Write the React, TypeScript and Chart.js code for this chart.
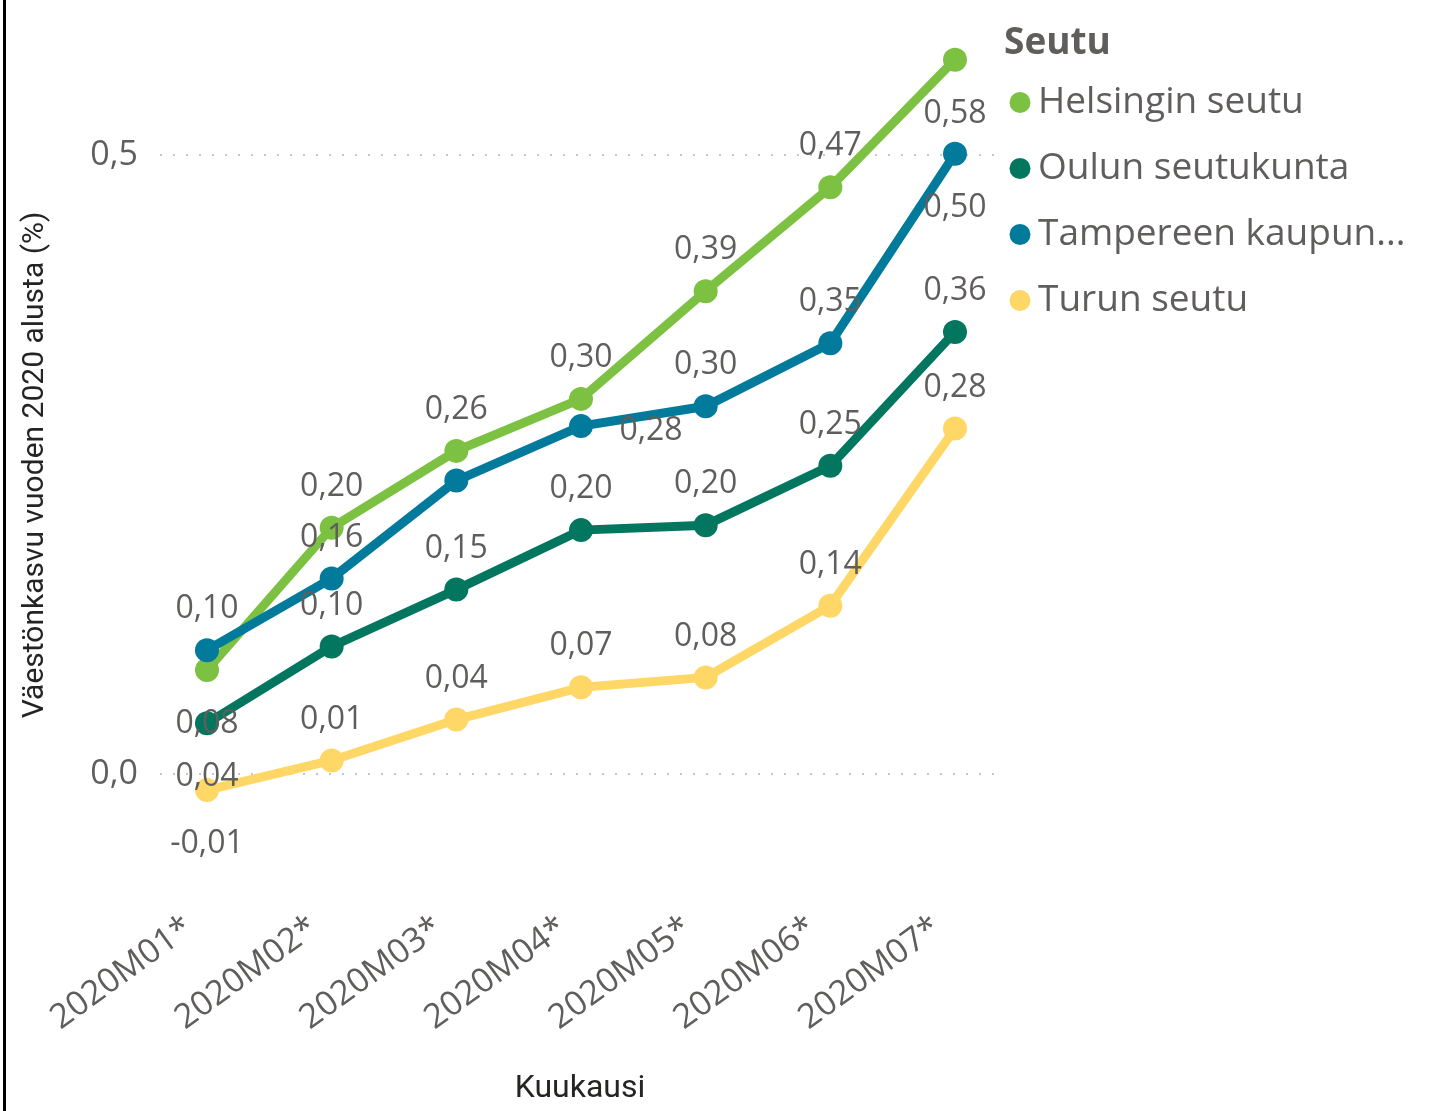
import React, { useEffect, useRef } from 'react';
import { Chart, registerables } from 'chart.js';

Chart.register(...registerables);

const categories = ['2020M01*', '2020M02*', '2020M03*', '2020M04*', '2020M05*', '2020M06*', '2020M07*'];
const seriesNames = ['Helsingin seutu', 'Oulun seutukunta', 'Tampereen kaupunkiseutu', 'Turun seutu'];
const helsinki = [0.084, 0.199, 0.261, 0.303, 0.39, 0.474, 0.577];
const oulu = [0.041, 0.103, 0.149, 0.197, 0.201, 0.249, 0.357];
const tampere = [0.1, 0.158, 0.237, 0.281, 0.297, 0.348, 0.501];
const turku = [-0.013, 0.011, 0.044, 0.07, 0.078, 0.136, 0.279];
const yTickValues = [0, 0.5];
const seriesValues = [helsinki, oulu, tampere, turku];
const legendTitle = 'Seutu';

const colors = ['#7DC142', '#02765F', '#027A9C', '#FED766'];
// where each data label sits relative to its point (null = hidden)
const labelPlacement: (string | null)[][] = [
  ['below', 'above', 'above', 'above', 'above', 'above', 'below'],
  ['below', 'above', 'above', 'above', 'above', 'above', 'above'],
  ['above', 'above', null, 'right', 'above', 'above', 'below'],
  ['below', 'above', 'above', 'above', 'above', 'above', 'above'],
];

const TEXT = '#605E5C';
const TITLE = '#252423';
const FONT = '"Open Sans", "Noto Sans", sans-serif';

const fmt = (v: number, d: number) => v.toFixed(d).replace('.', ',');
const truncate = (s: string) => (s.length > 16 ? s.slice(0, 16) + '...' : s);

const dataLabelPlugin = {
  id: 'pbiDataLabels',
  afterDatasetsDraw(chart: any) {
    const ctx = chart.ctx;
    ctx.save();
    ctx.font = `32px ${FONT}`;
    ctx.fillStyle = TEXT;
    ctx.textAlign = 'center';
    ctx.textBaseline = 'middle';
    chart.data.datasets.forEach((ds: any, di: number) => {
      const meta = chart.getDatasetMeta(di);
      meta.data.forEach((pt: any, i: number) => {
        const place = labelPlacement[di][i];
        if (!place) return;
        let x = pt.x;
        let y = pt.y;
        if (place === 'above') y -= 41;
        else if (place === 'below') y += 54;
        else if (place === 'right') {
          x += 70;
          y += 5;
        }
        ctx.fillText(fmt(ds.data[i].y, 2), x, y);
      });
    });
    ctx.restore();
  },
};

const legendPlugin = {
  id: 'pbiLegend',
  afterDraw(chart: any) {
    const ctx = chart.ctx;
    const x0 = chart.chartArea.right + 4;
    ctx.save();
    ctx.textAlign = 'left';
    ctx.textBaseline = 'middle';
    ctx.fillStyle = TEXT;
    ctx.font = `bold 37px ${FONT}`;
    ctx.fillText(legendTitle, x0, 43);
    ctx.font = `37px ${FONT}`;
    chart.data.datasets.forEach((ds: any, i: number) => {
      const y = 102.5 + i * 66;
      ctx.fillStyle = ds.borderColor;
      ctx.beginPath();
      ctx.arc(x0 + 16, y, 10.5, 0, Math.PI * 2);
      ctx.fill();
      ctx.fillStyle = TEXT;
      ctx.fillText(truncate(ds.label), x0 + 34, y);
    });
    ctx.restore();
  },
};

export default function App() {
  const ref = useRef<HTMLCanvasElement>(null);

  useEffect(() => {
    if (!ref.current) return;
    const datasets = seriesNames.map((name, si) => ({
      label: name,
      data: seriesValues[si].map((v, i) => ({ x: i, y: v })),
      borderColor: colors[si],
      backgroundColor: colors[si],
      pointBackgroundColor: colors[si],
      pointBorderWidth: 0,
      pointRadius: 12,
      pointHoverRadius: 12,
      borderWidth: 9,
      tension: 0,
      clip: false,
      order: seriesNames.length - si,
    }));

    const chart = new Chart(ref.current, {
      type: 'line',
      data: { datasets },
      plugins: [dataLabelPlugin, legendPlugin],
      options: {
        animation: false,
        responsive: false,
        devicePixelRatio: 1,
        layout: { autoPadding: false, padding: { top: 50, right: 432, bottom: 0, left: 0 } },
        plugins: {
          tooltip: { enabled: false },
          legend: { display: false },
        },
        scales: {
          x: {
            type: 'linear',
            min: -0.377,
            max: 6.361,
            grid: { display: false, drawTicks: false },
            border: { display: false },
            afterBuildTicks: (s: any) => {
              s.ticks = categories.map((_, i) => ({ value: i }));
            },
            afterFit: (s: any) => {
              s.height = 231;
            },
            ticks: {
              autoSkip: false,
              minRotation: 36,
              maxRotation: 36,
              labelOffset: -18,
              padding: 28,
              color: TEXT,
              font: { family: FONT, size: 34 },
              callback: (v: any) => categories[v as number] ?? '',
            },
            title: {
              display: true,
              text: 'Kuukausi',
              color: TITLE,
              font: { family: 'Roboto, sans-serif', size: 32 },
              padding: { top: 0, bottom: 3 },
            },
          },
          y: {
            min: -0.0856,
            max: 0.5848,
            afterBuildTicks: (s: any) => {
              s.ticks = yTickValues.map((v) => ({ value: v }));
            },
            afterFit: (s: any) => {
              s.width = 154;
            },
            grid: { color: '#C8C6C4', lineWidth: 2, drawTicks: false },
            border: { display: false, dash: [2, 11] },
            ticks: {
              padding: 22,
              color: TEXT,
              font: { family: FONT, size: 34 },
              callback: (v: any) => fmt(Number(v), 1),
            },
            title: {
              display: true,
              text: 'Väestönkasvu vuoden 2020 alusta (%)',
              color: TITLE,
              font: { family: 'Roboto, sans-serif', size: 30 },
              padding: { top: 11, bottom: 0 },
            },
          },
        },
      } as any,
    });
    return () => chart.destroy();
  }, []);

  return (
    <div style={{ position: 'fixed', left: 0, top: 0, width: 1432, height: 1111, background: '#fff' }}>
      <div style={{ position: 'absolute', left: 3, top: 0, width: 3, height: 1111, background: '#000' }} />
      <canvas
        ref={ref}
        width={1426}
        height={1111}
        style={{ position: 'absolute', left: 6, top: 0, width: 1426, height: 1111 }}
      />
    </div>
  );
}
